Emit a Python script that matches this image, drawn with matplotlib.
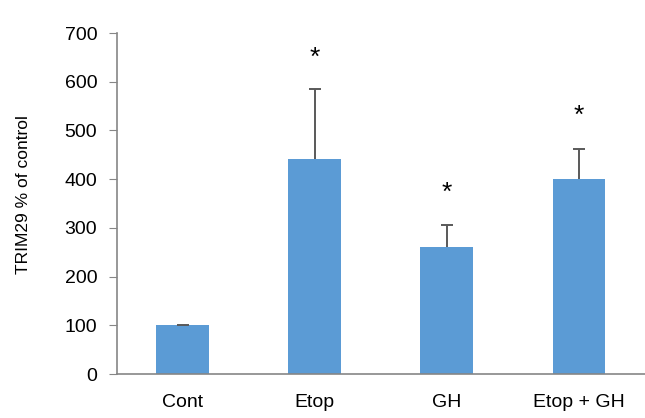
import matplotlib
matplotlib.use("Agg")
import matplotlib.pyplot as plt

plt.rcParams['font.family'] = ['Liberation Sans', 'DejaVu Sans']

# TRIM29 levels, % of control
groups = ['Cont', 'Etop', 'GH', 'Etop + GH']
means = [100, 441, 261, 401]
errs = [1.5, 144, 46, 60]
star_y = [None, 650, 372, 529]

fig = plt.figure(figsize=(6.45, 4.18), dpi=100)
ax = fig.add_axes([0.181, 0.105, 0.819, 0.816])

x = list(range(len(groups)))
ax.bar(x, means, width=0.4, color='#5B9BD5', zorder=2)

# upper-only error bars (stem + cap)
tops = [m + e for m, e in zip(means, errs)]
ax.vlines(x, means, tops, color='#595959', lw=1.4, zorder=3)
ax.hlines(tops, [i - 0.045 for i in x], [i + 0.045 for i in x],
          color='#595959', lw=1.4, zorder=3)

for i, y in enumerate(star_y):
    if y is not None:
        ax.text(i, y, '*', ha='center', va='center', fontsize=19)

ax.set_xlim(-0.5, 3.5)
ax.set_ylim(0, 700)
ax.set_yticks(range(0, 701, 100))
ax.set_xticks(x)
ax.set_xticklabels(groups)
ax.set_ylabel('TRIM29 % of control', fontsize=12.5)
ax.yaxis.set_label_coords(-0.162, 0.525)

for s in ['top', 'right']:
    ax.spines[s].set_visible(False)
for s in ['left', 'bottom']:
    ax.spines[s].set_color('#868686')
    ax.spines[s].set_linewidth(1.2)
ax.tick_params(axis='y', direction='out', length=6, color='#868686', labelsize=14, pad=8)
ax.tick_params(axis='x', length=0, labelsize=14, pad=14)

fig.savefig('out.png', dpi=100)
